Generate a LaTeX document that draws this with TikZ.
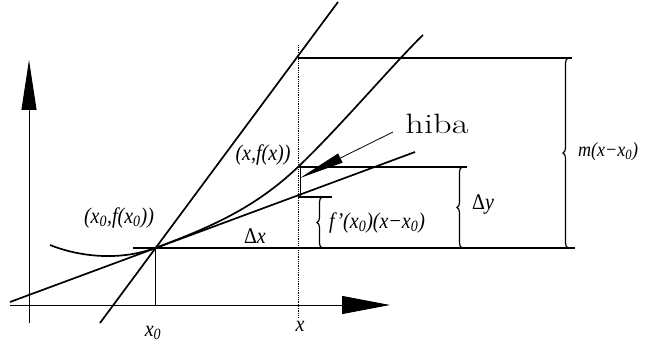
\documentclass[tikz,border=0pt]{standalone}
\usepackage{fontspec}
\newfontfamily\tms{Liberation Serif}
\usetikzlibrary{arrows.meta,decorations.pathreplacing}
\begin{document}
\begin{tikzpicture}[x=1pt,y=-1pt,
  thickline/.style={line width=1.7pt},
  thinline/.style={line width=0.9pt},
  axisline/.style={line width=1pt},
  lbl/.style={font=\tms\itshape\fontsize{20}{23}\selectfont, inner sep=0pt, yscale=1.12},
  brc/.style={decorate, decoration={brace, amplitude=5pt}, line width=1.2pt}]
\useasboundingbox (0,0) rectangle (646,345);
% key points
\coordinate (P) at (155,248);
\coordinate (Q) at (298,167);
\coordinate (T) at (298,197);
\coordinate (S) at (298,58);
% axes
\coordinate (xl) at (10,305);
\coordinate (xr) at (390,305);
\coordinate (yb) at (29,323);
\coordinate (yt) at (29,60);
\draw[axisline, -{Triangle[length=48pt,width=18pt]}] (xl) -- (xr);
\draw[axisline, -{Triangle[length=50pt,width=15pt]}] (yb) -- (yt);
% secant
\coordinate (s1) at (100,323);
\coordinate (s2) at (338,2);
\draw[thickline] (s1) -- (s2);
% tangent
\coordinate (t1) at (10,302);
\coordinate (t2) at (415,152);
\draw[thickline] (t1) -- (t2);
% curve
\coordinate (c0) at (50,245);
\coordinate (c3) at (423,35);
\draw[thickline] (c0) .. controls (80,257) and (120,261) .. (P)
  .. controls (210,227.6) and (255,208) .. (Q)
  .. controls (340,127) and (395,62) .. (c3);
% verticals
\coordinate (x0foot) at (155,305);
\draw[thinline] (P) -- (x0foot);
\coordinate (vtop) at (298,45);
\coordinate (vbot) at (298,318);
\draw[line width=0.8pt, densely dotted] (vtop) -- (vbot);
% horizontals
\coordinate (h0a) at (133,248);
\coordinate (h0b) at (575,248);
\draw[line width=1.4pt] (h0a) -- (h0b);
\coordinate (hSb) at (572,58);
\draw[line width=1.4pt] (S) -- (hSb);
\coordinate (hQb) at (467,167);
\draw[line width=1.4pt] (Q) -- (hQb);
\coordinate (hTb) at (332,197);
\draw[line width=1.4pt] (T) -- (hTb);
\coordinate (e1) at (300,167);
\coordinate (e2) at (300,197);
\draw[thinline] (e1) -- (e2);
% braces
\coordinate (b1t) at (322,197);
\coordinate (b1b) at (322,248);
\draw[brc] (b1b) -- (b1t);
\coordinate (b2t) at (462,167);
\coordinate (b2b) at (462,248);
\draw[brc] (b2b) -- (b2t);
\coordinate (b3t) at (568,58);
\coordinate (b3b) at (568,248);
\draw[brc] (b3b) -- (b3t);
% labels
\node[lbl] (lP) at (119,218) {(x\textsubscript{0},f(x\textsubscript{0}))};
\node[lbl] (lQ) at (263,155) {(x,f(x))};
\node[lbl] (ldx) at (255,236) {\upshape Δ\itshape x};
\node[lbl, anchor=west] (lfp) at (329,223) {f’(x\textsubscript{0})(x−x\textsubscript{0})};
\node[lbl, anchor=west] (ldy) at (472,205) {\upshape Δ\itshape y};
\node[lbl, anchor=west, font=\tms\itshape\fontsize{18}{21}\selectfont] (lm) at (578,152) {m(x−x\textsubscript{0})};
\node[lbl] (lx0) at (153,333) {x\textsubscript{0}};
\node[lbl] (lx) at (300,326) {x};
% hiba
\node[font=\fontsize{28}{30}\selectfont, inner sep=0pt, xscale=1.3] (hiba) at (437,124) {hiba};
\coordinate (hs) at (393,132);
\coordinate (ht) at (300,178);
\draw[line width=0.8pt, -{Triangle[length=45pt,width=10pt]}] (hs) -- (ht);
\end{tikzpicture}
\end{document}
